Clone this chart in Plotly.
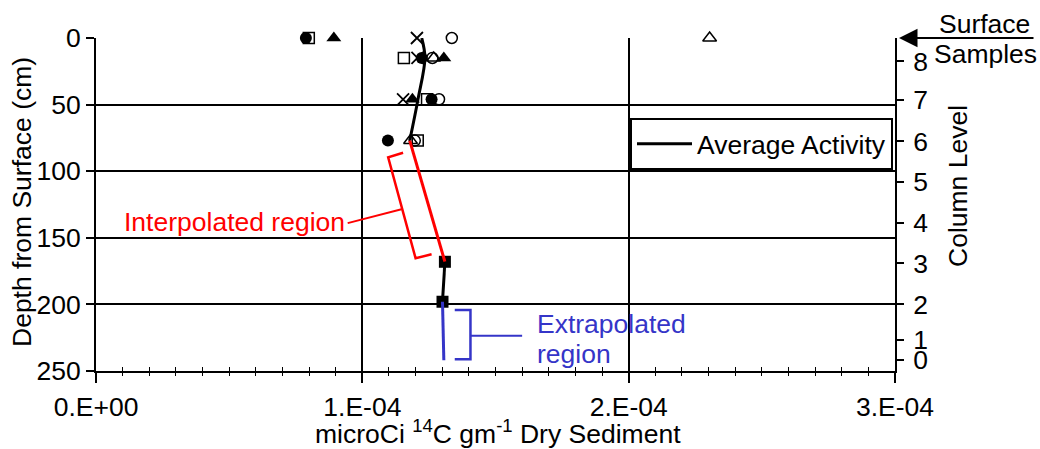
import plotly.graph_objects as go

# ---------------- data ----------------
# individual sample activities (microCi 14C / g dry sediment) vs depth (cm)
filled_circle_depth = [0, 15, 46, 77]
filled_circle_val = [7.88e-5, 1.223e-4, 1.260e-4, 1.096e-4]
open_square_depth = [0, 15, 46, 77]
open_square_val = [7.99e-5, 1.156e-4, 1.243e-4, 1.208e-4]
filled_tri_depth = [0, 15, 46]
filled_tri_val = [8.93e-5, 1.306e-4, 1.188e-4]
cross_depth = [0, 15, 46]
cross_val = [1.205e-4, 1.207e-4, 1.153e-4]
open_circle_depth = [0, 15, 46, 77]
open_circle_val = [1.336e-4, 1.263e-4, 1.288e-4, 1.197e-4]
open_tri_depth = [0, 15, 77]
open_tri_val = [2.304e-4, 1.268e-4, 1.181e-4]
filled_square_depth = [168, 198]
filled_square_val = [1.310e-4, 1.301e-4]

# average activity profile
avg_depth = [0, 15, 46, 77]
avg_val = [1.223e-4, 1.235e-4, 1.209e-4, 1.178e-4]
interp_depth = [77, 168]
interp_val = [1.178e-4, 1.310e-4]
lower_depth = [168, 198]
lower_val = [1.310e-4, 1.301e-4]
extrap_depth = [198, 242]
extrap_val = [1.301e-4, 1.306e-4]

# axes
x_ticks = [0, 1e-4, 2e-4, 3e-4]
x_ticklabels = ["0.E+00", "1.E-04", "2.E-04", "3.E-04"]
x_minor = [i * 1e-5 for i in range(31) if i % 10 != 0]
y_ticks = [0, 50, 100, 150, 200, 250]
level_labels = ["8", "7", "6", "5", "4", "3", "2", "1", "0"]
level_depths = [17.5, 46.5, 77.5, 108.2, 138.8, 169.2, 200.0, 226.8, 241.8]

# bracket annotations (data units)
interp_bracket_x = [1.153e-4, 1.097e-4, 1.200e-4, 1.260e-4]
interp_bracket_y = [86.1, 89.6, 165.4, 162.4]
interp_conn_x = [0.945e-4, 1.147e-4]
interp_conn_y = [139.0, 128.6]
extrap_bracket_x = [1.347e-4, 1.406e-4, 1.406e-4, 1.347e-4]
extrap_bracket_y = [204.2, 204.2, 241.2, 241.2]
extrap_conn_x = [1.406e-4, 1.600e-4]
extrap_conn_y = [223.5, 223.5]

RED = "#FF0000"
BLUE = "#3535C8"
FONT = "Liberation Sans, Arial, sans-serif"
FS = 26.5

fig = go.Figure()

def pts(x, y, symbol, size, lw=1.5):
    fig.add_trace(go.Scatter(
        x=x, y=y, mode="markers", showlegend=False, cliponaxis=False,
        marker=dict(symbol=symbol, size=size, color="black",
                    line=dict(color="black", width=lw)),
    ))

pts(open_square_val, open_square_depth, "square-open", 11)
pts(filled_circle_val, filled_circle_depth, "circle", 12, 0)
pts(filled_tri_val, filled_tri_depth, "triangle-up", 13, 0)
pts(cross_val, cross_depth, "x-thin-open", 12, 1.8)
pts(open_circle_val, open_circle_depth, "circle-open", 11)
pts(open_tri_val, open_tri_depth, "triangle-up-open", 12)
pts(filled_square_val, filled_square_depth, "square", 12, 0)

# average activity line
fig.add_trace(go.Scatter(
    x=avg_val, y=avg_depth, mode="lines", name="Average Activity",
    line=dict(color="black", width=3, shape="spline"), legendgroup="avg",
    cliponaxis=False,
))
fig.add_trace(go.Scatter(
    x=interp_val, y=interp_depth, mode="lines", showlegend=False,
    line=dict(color=RED, width=3),
))
fig.add_trace(go.Scatter(
    x=lower_val, y=lower_depth, mode="lines", showlegend=False,
    line=dict(color="black", width=3), legendgroup="avg",
))
fig.add_trace(go.Scatter(
    x=extrap_val, y=extrap_depth, mode="lines", showlegend=False,
    line=dict(color=BLUE, width=3),
))

# brackets
fig.add_trace(go.Scatter(x=interp_bracket_x, y=interp_bracket_y, mode="lines",
                         showlegend=False, line=dict(color=RED, width=2.5)))
fig.add_trace(go.Scatter(x=interp_conn_x, y=interp_conn_y, mode="lines",
                         showlegend=False, line=dict(color=RED, width=2)))
fig.add_trace(go.Scatter(x=extrap_bracket_x, y=extrap_bracket_y, mode="lines",
                         showlegend=False, line=dict(color=BLUE, width=2.5)))
fig.add_trace(go.Scatter(x=extrap_conn_x, y=extrap_conn_y, mode="lines",
                         showlegend=False, line=dict(color=BLUE, width=2)))

# dummy traces to activate helper axes
fig.add_trace(go.Scatter(x=[None], y=[None], xaxis="x2", yaxis="y",
                         showlegend=False, hoverinfo="skip"))
fig.add_trace(go.Scatter(x=[None], y=[None], xaxis="x", yaxis="y2",
                         showlegend=False, hoverinfo="skip"))

fig.update_layout(
    width=1040, height=449,
    margin=dict(l=96, r=145, t=38, b=78, pad=0, autoexpand=False),
    paper_bgcolor="white", plot_bgcolor="white",
    font=dict(family=FONT, size=FS, color="black"),
    xaxis=dict(
        range=[0, 3e-4], tickmode="array", tickvals=x_ticks, ticktext=x_ticklabels,
        ticks="outside", ticklen=10, tickwidth=1.5, tickcolor="black",
        showline=True, linecolor="black", linewidth=2, automargin=False,
        showgrid=True, gridcolor="black", gridwidth=1.5, zeroline=False,
        tickfont=dict(size=FS), ticklabelstandoff=1,
        minor=dict(tickmode="array", tickvals=x_minor, ticks="inside",
                   ticklen=4, tickwidth=1.2, tickcolor="black", showgrid=False),
    ),
    xaxis2=dict(
        range=[0, 3e-4], overlaying="x", anchor="y", side="bottom",
        tickmode="array", tickvals=x_minor, ticks="outside", ticklen=4,
        tickwidth=1.2, tickcolor="black", showticklabels=False, automargin=False,
        showgrid=False, showline=False, zeroline=False,
    ),
    yaxis=dict(
        range=[250, 0], tickmode="array", tickvals=y_ticks,
        ticks="outside", ticklen=8, tickwidth=1.5, tickcolor="black",
        showline=True, linecolor="black", linewidth=2, automargin=False,
        showgrid=True, gridcolor="black", gridwidth=1.5, zeroline=False,
        tickfont=dict(size=FS), ticklabelstandoff=0,
    ),
    yaxis2=dict(
        range=[250, 0], overlaying="y", side="right", anchor="x",
        tickmode="array", tickvals=level_depths, ticktext=level_labels,
        ticks="outside", ticklen=7, tickwidth=1.5, tickcolor="black",
        showline=True, linecolor="black", linewidth=2, automargin=False,
        showgrid=False, zeroline=False, tickfont=dict(size=FS),
        ticklabelstandoff=4,
    ),
    legend=dict(
        x=(630 - 96) / 799, y=(371 - 118) / 333, xanchor="left", yanchor="top",
        bgcolor="white", bordercolor="black", borderwidth=2,
        font=dict(size=FS), itemwidth=55, tracegroupgap=0,
    ),
    showlegend=True,
)

# axis titles and text annotations
fig.add_annotation(x=(22 - 96) / 799, y=(371 - 202) / 333, xref="paper", yref="paper",
                   text="Depth from Surface (cm)", textangle=-90, showarrow=False,
                   xanchor="center", yanchor="middle", font=dict(size=FS))
fig.add_annotation(x=(498 - 96) / 799, y=(371 - 432) / 333, xref="paper", yref="paper",
                   text="microCi <sup>14</sup>C gm<sup>-1</sup> Dry Sediment",
                   showarrow=False, xanchor="center", yanchor="middle",
                   font=dict(size=FS))
fig.add_annotation(x=0.0976e-4, y=138.1, xref="x", yref="y", text="Interpolated region",
                   showarrow=False, xanchor="left", yanchor="middle",
                   font=dict(color=RED, size=FS))
fig.add_annotation(x=1.647e-4, y=214.5, xref="x", yref="y", text="Extrapolated",
                   showarrow=False, xanchor="left", yanchor="middle",
                   font=dict(color=BLUE, size=FS))
fig.add_annotation(x=1.647e-4, y=237.5, xref="x", yref="y", text="region",
                   showarrow=False, xanchor="left", yanchor="middle",
                   font=dict(color=BLUE, size=FS))
fig.add_annotation(x=(958 - 96) / 799, y=(371 - 186) / 333, xref="paper", yref="paper",
                   text="Column Level", textangle=-90, showarrow=False,
                   xanchor="center", yanchor="middle", font=dict(size=FS))
fig.add_annotation(x=(984 - 96) / 799, y=(371 - 24) / 333, xref="paper", yref="paper",
                   text="Surface", showarrow=False, xanchor="center", yanchor="middle",
                   font=dict(size=FS))
fig.add_annotation(x=(985 - 96) / 799, y=(371 - 54) / 333, xref="paper", yref="paper",
                   text="Samples", showarrow=False, xanchor="center", yanchor="middle",
                   font=dict(size=FS))
# surface samples arrow
fig.add_annotation(x=3e-4, y=0, xref="x", yref="y", ax=140, ay=0, text="",
                   showarrow=True, arrowhead=2, arrowsize=1.85, arrowwidth=2,
                   arrowcolor="black", standoff=4)

fig.write_html("out.html")
